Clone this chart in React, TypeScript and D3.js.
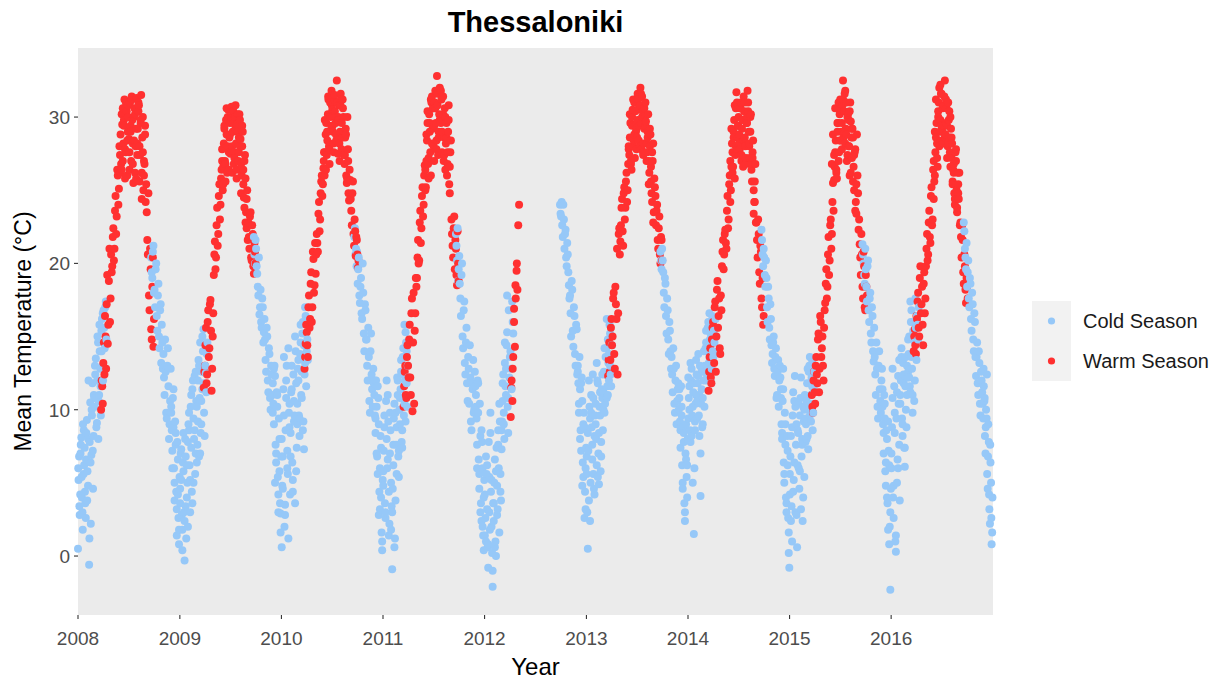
import React from 'react';
import * as d3 from 'd3';

// legend / colours
const seasons = ['Cold Season', 'Warm Season'];
const seasonColors = ['#96C8F8', '#FF3030'];

const yearTicks = [2008, 2009, 2010, 2011, 2012, 2013, 2014, 2015, 2016];
const tempTicks = [0, 10, 20, 30];

// mean daily temperature (°C), one reading every 4 days from the run start.
// "b" runs are the readings two days later, "c" runs fill winter and summer.
const cold2008 = [
  0.5, 6.8, 4.2, 8.1, 3.0, 5.6, 7.4, 2.6,
  9.3, 4.8, -0.6, 10.5, 6.9, 11.8, 8.2,
  10.2, 13.5, 9.1, 14.6, 11.0, 12.8, 15.4, 13.0,
  16.8, 14.2, 17.4,
];
const cold2008b = [
  5.2, 2.8, 7.6, 4.0, 9.0, 6.2, 3.6, 8.4,
  5.8, 12.0, 7.8, 2.2, 9.6, 4.6, 10.8,
  12.4, 8.8, 15.0, 10.6, 14.0, 9.6, 16.2, 12.0,
  15.6, 17.0, 14.8,
];
const cold2008c = [
  6.0, 3.4, 7.0, 5.4, 1.8, 8.6, 4.4, 6.6,
  3.8, 8.0, 1.2, 6.4, 10.0, 7.2, 11.0,
  13.0, 10.8, 12.0, 8.0, 15.8, 11.6, 14.0, 16.6,
];
const warm2008 = [
  10.0, 11.6,
  13.2, 12.4, 15.0, 17.2, 14.5, 18.8, 16.0, 20.6,
  19.8, 22.4, 21.0, 24.6, 23.2, 26.0, 25.1, 27.4,
  26.8, 29.5, 28.2, 31.2, 27.6, 30.4, 29.0,
  28.5, 31.0, 27.0, 29.8, 25.5, 30.6, 28.0, 31.3,
  29.2, 30.8, 27.4, 31.5, 28.6, 25.0, 26.8, 24.2,
  23.5, 20.6, 17.8, 21.0, 15.5, 18.4, 14.3,
];
const warm2008b = [
  12.0, 10.4,
  14.6, 16.4, 12.8, 19.2, 15.8, 21.0, 17.6, 19.4,
  21.8, 20.2, 23.6, 22.0, 26.4, 24.0, 28.0, 26.2,
  30.2, 27.0, 29.8, 25.8, 31.0, 28.4, 30.8,
  26.4, 29.4, 31.2, 28.2, 30.0, 26.2, 29.2, 27.4,
  30.4, 28.0, 29.6, 26.2, 30.0, 27.0, 29.4, 25.4,
  21.6, 24.8, 16.8, 19.6, 14.8, 20.4, 16.2,
];
const warm2008c = [
  28.8, 26.4, 30.6, 29.4, 27.8, 31.0, 26.0,
  30.0, 27.6, 29.0, 31.4, 26.8, 28.4, 30.2, 25.8,
  28.2, 31.0, 25.6, 29.8, 24.4, 27.6, 26.0, 28.8,
];
const cold0809 = [
  20.4, 19.0, 21.2,
  18.2, 19.6, 16.4, 17.8, 15.0, 16.8, 13.2, 14.6,
  13.8, 11.0, 12.6, 9.4, 14.2, 8.0, 10.6,
  9.8, 7.2, 11.4, 5.0, 8.4, 3.2, 6.6, 1.8,
  4.6, 7.3, 0.4, 5.8, -0.3, 3.4, 6.2, 2.0,
  8.6, 5.2, 11.0, 3.6, 9.4, 12.3, 7.0,
  10.2, 12.0, 6.8, 14.6, 9.0, 11.4, 15.5, 8.2,
  12.5, 13.8,
];
const cold0809b = [
  19.4, 20.8, 18.0,
  17.0, 20.0, 15.4, 18.6, 14.2, 17.2, 15.8, 12.8,
  12.2, 14.8, 9.8, 13.0, 11.6, 9.0, 12.8,
  8.6, 10.8, 6.0, 9.2, 4.4, 7.8, 2.6, 5.4,
  7.0, 2.8, 6.4, 3.0, 8.0, 1.2, 5.0, 9.0,
  6.2, 10.2, 4.4, 12.0, 8.0, 5.6, 10.6,
  7.6, 13.4, 10.8, 8.4, 12.6, 14.0, 9.8, 13.0,
  11.2, 14.6,
];
const cold0809c = [
  10.2, 6.0, 8.8, 3.8, 7.6, 1.4, 4.2, 0.8,
  3.6, 5.2, 1.8, 8.4, 2.4, 6.8, 4.0, 7.8,
  9.8, 3.0, 7.4, 11.4, 5.0, 8.6, 12.6,
  6.4, 9.2, 13.0, 7.0, 10.6, 15.0, 11.8,
];
const warm2009 = [
  11.5,
  13.0, 15.6, 12.4, 16.8, 14.2, 17.5, 11.3, 15.0,
  19.2, 21.5, 20.4, 23.8, 22.0, 25.4, 24.0, 26.4,
  25.0, 28.2, 27.0, 29.8, 26.2, 30.5, 28.6,
  27.5, 30.7, 29.0, 26.8, 30.0, 28.2, 29.5, 27.0,
  30.2, 28.5, 26.0, 29.0, 24.5, 27.4, 23.5, 25.0,
  22.8, 21.0, 23.5, 20.2, 22.0, 19.3, 20.8,
];
const warm2009b = [
  12.6,
  14.4, 11.8, 16.0, 13.6, 17.2, 15.4, 12.8, 16.6,
  20.6, 19.6, 22.6, 21.2, 24.6, 23.0, 25.8, 27.0,
  26.6, 29.2, 25.6, 28.8, 30.0, 27.6, 29.6,
  29.8, 28.0, 30.4, 27.6, 29.2, 26.4, 30.2, 28.6,
  28.0, 26.8, 29.4, 25.4, 27.0, 22.8, 24.4, 21.6,
  21.8, 23.2, 20.4, 22.6, 19.8, 21.4, 20.0,
];
const warm2009c = [
  27.8, 25.4, 29.4, 26.8, 30.6, 28.0, 26.4,
  28.8, 30.0, 26.2, 29.6, 27.2, 30.8, 25.8, 29.0,
  27.6, 29.8, 24.8, 28.0, 26.4, 23.8, 25.8, 22.4,
];
const cold0910 = [
  21.8, 20.0,
  21.0, 19.3, 17.8, 16.5, 18.2, 15.6, 17.0, 15.3,
  14.8, 12.6, 15.0, 11.2, 13.8, 10.0, 12.4,
  11.8, 9.0, 12.3, 6.4, 10.2, 4.2, 8.0, 2.9,
  0.6, 6.8, 9.6, 3.5, 12.0, 7.2, 1.2, 10.4,
  8.4, 13.0, 5.2, 10.6, 3.6, 11.8, 9.0,
  12.0, 8.2, 14.6, 10.8, 16.0, 7.3, 13.2, 11.6,
  14.8,
];
const cold0910b = [
  20.6, 21.6,
  19.8, 18.4, 20.4, 17.0, 16.0, 17.6, 14.6, 16.2,
  13.4, 15.6, 12.0, 14.2, 10.8, 13.0, 11.0,
  10.4, 13.0, 7.6, 11.2, 5.4, 9.4, 3.6, 6.8,
  4.8, 11.4, 2.0, 8.6, 13.0, 5.6, 9.8, 4.2,
  11.2, 6.4, 12.4, 9.6, 14.0, 7.4, 12.8,
  9.6, 13.8, 11.0, 15.2, 9.2, 12.4, 16.4, 14.0,
  13.4,
];
const cold0910c = [
  9.8, 12.8, 5.0, 7.0, 11.0, 3.0, 5.8, 1.6,
  8.0, 4.6, 13.6, 2.8, 10.8, 6.0, 14.2, 8.8,
  6.8, 11.4, 4.4, 9.2, 15.0, 5.8, 10.4,
  13.4, 9.4, 15.8, 12.6, 8.6, 14.4, 17.0,
];
const warm2010 = [
  12.8, 14.5,
  15.3, 13.6, 17.8, 16.2, 19.4, 17.0, 20.3, 18.5,
  19.3, 22.0, 20.8, 24.2, 23.0, 25.6, 24.6, 26.5,
  26.0, 28.8, 27.4, 30.2, 28.0, 31.0, 29.4,
  30.5, 28.2, 31.5, 29.6, 32.5, 27.5, 30.8, 29.0,
  31.2, 28.6, 30.0, 26.8, 29.2, 25.5, 27.8, 24.3,
  25.7, 23.6, 24.8, 22.0, 23.0, 20.5, 21.6,
  19.7,
];
const warm2010b = [
  13.6, 15.8,
  14.4, 17.0, 15.6, 18.6, 16.0, 20.8, 18.0, 21.4,
  20.6, 21.4, 23.4, 22.2, 24.8, 26.0, 25.4, 27.6,
  27.6, 29.6, 28.4, 31.2, 26.8, 30.0, 30.8,
  29.0, 31.2, 30.0, 28.4, 31.0, 29.8, 27.0, 31.6,
  29.6, 30.6, 27.4, 28.6, 26.0, 30.0, 24.8, 26.4,
  24.4, 22.6, 25.6, 21.2, 22.2, 21.8, 20.6,
  20.2,
];
const warm2010c = [
  27.0, 29.8, 26.4, 29.0, 31.4, 27.8, 30.2,
  31.8, 29.4, 27.6, 30.4, 28.8, 31.0, 30.0, 28.2,
  30.8, 27.8, 31.2, 29.0, 27.4, 28.8, 25.8, 27.0,
];
const cold1011 = [
  21.8, 20.6, 19.8,
  18.6, 20.4, 17.3, 19.0, 16.2, 18.0, 14.0, 16.8,
  14.8, 12.0, 13.6, 9.8, 15.2, 11.4, 12.8,
  11.0, 8.4, 10.2, 5.6, 9.0, 3.2, 7.4, 0.4,
  5.8, 9.6, 2.6, 8.0, 11.0, 4.4, 7.0, 1.8,
  -0.9, 6.2, 10.4, 3.8, 8.8, 11.0, 5.4,
  9.0, 12.6, 8.6, 14.2, 10.4, 15.3, 11.8, 13.0,
];
const cold1011b = [
  22.4, 21.0, 20.8,
  19.6, 17.8, 18.4, 16.6, 20.0, 15.2, 17.2, 14.8,
  13.0, 15.6, 10.6, 14.0, 12.4, 10.2, 11.8,
  9.6, 12.0, 6.8, 10.8, 4.4, 8.2, 1.6, 5.2,
  7.2, 3.6, 10.6, 6.0, 9.2, 2.2, 8.6, 3.4,
  4.6, 9.4, 1.2, 7.6, 12.2, 6.8, 10.0,
  11.4, 7.8, 13.6, 9.6, 12.0, 14.6, 10.2, 12.2,
];
const cold1011c = [
  12.0, 9.4, 7.0, 11.6, 2.8, 6.0, 4.0, 1.0,
  4.8, 8.8, 3.0, 12.0, 6.6, 1.4, 9.8, 5.0,
  3.0, 7.6, 0.6, 9.8, 5.6, 12.0, 7.2,
  10.8, 13.4, 7.4, 12.4, 15.8, 9.2, 14.0,
];
const warm2011 = [
  10.2, 12.6, 11.0, 13.6,
  13.0, 14.8, 12.2, 16.6, 9.9, 18.0, 15.4, 19.0,
  19.0, 21.6, 20.2, 23.6, 22.4, 25.2, 24.0, 26.7,
  25.2, 28.4, 26.8, 30.2, 27.6, 31.0, 29.2,
  28.0, 31.0, 29.6, 32.8, 27.4, 30.2, 28.8, 31.2,
  29.8, 27.0, 30.6, 28.2, 26.0, 29.0, 25.4, 27.6,
  23.0, 21.2, 22.4, 19.6, 21.0, 18.5, 20.0,
];
const warm2011b = [
  11.6, 13.0, 10.8, 14.4,
  12.2, 15.8, 11.0, 17.6, 14.6, 10.4, 16.6, 18.4,
  20.4, 20.0, 22.8, 21.4, 24.6, 23.2, 26.0, 25.0,
  27.0, 29.6, 25.8, 29.0, 31.2, 28.2, 30.6,
  29.4, 30.6, 27.8, 31.6, 28.6, 29.8, 31.8, 27.6,
  30.2, 28.6, 26.4, 29.6, 27.6, 30.8, 26.6, 28.4,
  22.0, 20.4, 23.2, 21.6, 19.2, 22.2, 18.8,
];
const warm2011c = [
  26.4, 28.8, 30.4, 27.2, 29.6, 26.0, 31.4,
  30.6, 27.0, 31.8, 28.4, 30.8, 29.0, 32.0, 29.6,
  29.0, 31.4, 27.4, 30.0, 28.6, 26.8, 29.8, 24.8,
];
const cold1112 = [
  22.0, 20.2, 18.8,
  20.5, 17.6, 19.2, 15.0, 16.8, 13.2, 14.6, 11.8,
  13.6, 10.4, 12.2, 8.6, 11.4, 9.8, 12.6,
  11.0, 7.6, 9.8, 4.6, 8.2, 2.4, 6.0, 0.4,
  4.2, 1.0, 6.2, -0.8, 3.0, 9.8, 5.2, -2.1,
  2.4, 6.6, 0.0, 4.8, 8.6, 1.6, 5.6,
  7.3, 10.6, 9.0, 13.2, 11.0, 15.3, 8.4, 12.2,
  14.0, 11.4, 16.0,
];
const cold1112b = [
  21.2, 22.4, 19.6,
  18.6, 16.4, 20.0, 14.2, 17.4, 12.4, 15.6, 10.6,
  12.8, 14.4, 9.2, 11.8, 13.4, 10.0, 11.6,
  9.4, 12.0, 6.6, 10.4, 3.6, 7.8, 1.4, 5.2,
  2.6, 5.6, 0.6, 7.8, 1.8, 4.4, 0.2, 3.6,
  5.0, 1.0, 7.4, 3.2, 6.0, 9.2, 3.8,
  9.2, 12.4, 8.0, 11.6, 14.4, 10.2, 16.8, 13.6,
  12.8, 17.4, 15.2,
];
const cold1112c = [
  10.2, 6.0, 11.8, 5.6, 3.0, 8.6, 2.0, 4.0,
  1.4, 6.8, 3.2, 0.8, 5.4, 8.4, 2.0, -1.0,
  3.6, 0.6, 5.8, 2.8, 7.6, 10.4, 4.4,
  8.6, 11.8, 9.8, 14.6, 12.8, 17.8, 10.8,
];
// short spring run, every 3 days
const warm2012 = [9.5, 12.0, 10.6, 13.6, 16.0, 14.3, 17.6, 19.5, 18.2, 22.6, 24.0];
const warm2012b = [11.5, 12.8, 16.9, 18.5, 20.0];
const cold1213 = [
  24.0,
  23.2, 22.6, 24.0, 21.0, 22.3, 19.8, 20.6, 18.5,
  17.8, 15.0, 18.2, 14.3, 16.4, 13.0, 15.5,
  12.6, 9.8, 11.4, 7.2, 10.6, 5.4, 8.8, 3.2,
  6.8, 0.5, 3.8, 9.4, 11.0, 7.6, 5.6, 8.2,
  10.4, 6.2, 11.8, 4.9, 9.6, 7.8, 10.8,
  11.2, 9.8, 13.6, 10.8, 14.8, 12.0, 13.0, 11.6,
];
const cold1213b = [
  23.4,
  24.2, 21.8, 23.0, 22.0, 20.4, 21.4, 19.4, 17.6,
  16.6, 18.8, 15.4, 17.0, 13.8, 15.8, 12.4,
  11.8, 13.6, 8.6, 12.2, 6.4, 9.8, 4.4, 7.4,
  3.0, 7.2, 10.2, 5.0, 8.8, 12.4, 4.6, 9.6,
  8.0, 12.0, 7.0, 10.2, 5.8, 11.4, 8.6,
  12.6, 10.4, 14.2, 11.6, 13.2, 15.8, 12.4, 14.4,
];
const cold1213c = [
  13.0, 10.4, 8.0, 11.8, 4.8, 9.0, 2.6, 6.0,
  5.6, 8.4, 12.0, 2.4, 9.8, 6.6, 10.8, 4.2,
  9.0, 13.2, 5.4, 8.4, 11.2, 6.8, 12.4,
  10.0, 14.2, 12.4, 16.2, 11.0, 13.8, 15.2,
];
const warm2013 = [
  12.3, 14.6, 13.4,
  16.2, 15.0, 18.0, 12.8, 17.2, 21.0, 16.6, 22.4,
  21.5, 23.8, 22.2, 24.8, 23.0, 25.6, 24.2, 26.8,
  27.4, 29.6, 26.4, 30.5, 28.4, 27.2, 29.0,
  28.6, 31.2, 29.4, 32.0, 27.8, 30.4, 28.2, 30.0,
  29.7, 27.6, 30.2, 26.2, 28.8, 24.8, 27.0, 23.5,
  25.2, 22.6, 24.0, 21.0, 23.2, 20.0, 21.6,
];
const warm2013b = [
  13.4, 12.6, 15.6,
  14.4, 17.6, 13.8, 18.4, 16.2, 12.4, 22.0, 20.6,
  22.6, 24.4, 21.2, 25.2, 23.8, 26.2, 25.0, 27.8,
  28.6, 26.8, 30.0, 28.0, 31.0, 29.4, 27.8,
  29.8, 30.6, 28.0, 31.6, 30.0, 27.4, 29.2, 31.0,
  28.2, 29.0, 27.0, 28.0, 25.6, 27.6, 22.8, 25.8,
  24.6, 23.6, 21.6, 22.4, 20.6, 21.8, 20.2,
];
const warm2013c = [
  28.0, 30.2, 27.0, 29.4, 31.2, 28.8, 30.4,
  29.2, 31.6, 28.4, 30.8, 29.6, 31.4, 27.6, 30.6,
  29.4, 27.0, 28.6, 25.4, 29.2, 26.6, 24.2, 28.2,
];
const cold1314 = [
  20.8, 19.6,
  20.2, 18.0, 19.0, 16.4, 17.6, 14.8, 16.0, 14.0,
  13.6, 11.2, 12.8, 9.8, 13.0, 10.6, 11.8,
  10.8, 7.4, 9.6, 5.0, 8.4, 2.4, 6.6, 4.0,
  9.4, 11.6, 7.8, 12.8, 10.2, 1.5, 8.6, 11.0,
  10.6, 12.3, 8.2, 4.1, 11.4, 9.0, 12.0,
  13.0, 14.6, 12.3, 16.0, 13.6, 15.2, 12.8, 14.0,
  15.4, 13.8,
];
const cold1314b = [
  20.2, 21.0,
  19.4, 17.0, 18.6, 15.2, 16.8, 13.8, 15.4, 12.8,
  12.4, 14.2, 10.4, 12.0, 9.0, 11.4, 10.0,
  9.2, 11.6, 6.2, 8.8, 3.6, 7.0, 5.4, 8.0,
  10.8, 8.6, 12.0, 9.6, 11.2, 6.0, 10.4, 12.4,
  11.8, 9.6, 13.0, 10.4, 8.8, 12.6, 10.2,
  14.2, 12.0, 15.6, 13.2, 14.8, 11.8, 16.4, 13.6,
  14.6, 16.2,
];
const cold1314c = [
  11.4, 8.6, 10.2, 4.6, 7.8, 3.0, 9.0, 6.2,
  12.2, 10.0, 13.2, 8.2, 5.0, 11.8, 9.2, 13.4,
  9.4, 13.8, 11.0, 7.0, 12.8, 10.8, 14.0,
  12.6, 15.4, 14.0, 13.0, 16.6, 12.0, 15.0,
];
const warm2014 = [
  11.3, 13.6, 12.2, 14.8,
  16.0, 13.2, 17.4, 15.0, 18.8, 16.4, 14.2, 17.8,
  19.8, 21.6, 20.6, 22.3, 21.0, 24.6, 23.0, 26.0,
  25.0, 28.2, 26.6, 29.8, 27.4, 31.7, 28.6,
  30.0, 27.8, 31.0, 29.2, 26.6, 30.4, 28.0, 29.6,
  31.8, 29.0, 27.2, 30.2, 25.6, 28.4, 24.2, 26.8,
  22.8, 20.4, 22.0, 18.6, 20.8, 17.0, 15.8,
];
const warm2014b = [
  12.6, 14.2, 11.8, 15.6,
  14.6, 17.0, 12.6, 18.2, 15.6, 17.6, 13.8, 16.8,
  20.8, 19.6, 22.0, 21.4, 23.6, 22.4, 25.4, 24.2,
  26.6, 27.6, 29.0, 25.8, 30.6, 27.8, 29.4,
  28.8, 30.6, 27.0, 29.8, 28.4, 31.0, 26.8, 30.0,
  30.4, 28.0, 29.0, 26.4, 27.6, 23.4, 25.6, 22.8,
  21.6, 23.0, 19.4, 21.2, 17.6, 19.0, 16.4,
];
const warm2014c = [
  27.0, 29.2, 26.2, 28.6, 30.8, 28.0, 31.0,
  29.4, 28.2, 30.6, 27.4, 29.8, 31.4, 28.6, 27.2,
  29.6, 31.0, 28.2, 30.0, 26.8, 27.2, 25.0, 24.2,
];
const cold1415 = [
  22.3, 20.6,
  21.0, 19.2, 20.2, 17.0, 18.4, 15.6, 17.2, 14.4,
  13.8, 15.0, 12.3, 14.2, 11.0, 13.4, 12.0,
  12.2, 9.0, 10.6, 6.4, 9.8, 4.0, 8.2, 2.6,
  -0.8, 6.8, 3.4, 9.6, 5.2, 12.3, 7.6, 0.6,
  8.4, 4.6, 10.8, 6.8, 2.4, 9.2, 11.0,
  9.0, 11.8, 7.3, 13.0, 10.4, 12.2, 8.6, 11.4,
];
const cold1415b = [
  21.6, 19.8,
  20.4, 18.4, 19.0, 16.0, 17.6, 14.8, 16.2, 13.2,
  14.6, 12.8, 13.6, 10.8, 12.6, 10.2, 13.0,
  10.8, 8.0, 11.4, 5.6, 9.0, 3.0, 7.2, 1.6,
  5.6, 2.4, 8.8, 4.4, 10.6, 3.0, 9.0, 6.2,
  6.0, 9.6, 3.2, 8.0, 10.2, 5.4, 7.8,
  10.6, 8.2, 12.6, 9.6, 11.0, 13.4, 9.8, 12.6,
];
const cold1415c = [
  11.4, 8.4, 12.8, 5.0, 7.6, 3.6, 6.2, 0.2,
  4.2, 8.2, 1.0, 11.2, 6.4, 10.2, 2.8, 8.6,
  10.4, 5.8, 12.2, 7.6, 4.0, 10.0, 9.4,
  8.0, 12.8, 10.0, 13.6, 9.2, 11.6, 12.8,
];
const warm2015 = [
  11.0, 9.8, 12.6, 10.4,
  13.6, 11.8, 15.2, 12.8, 16.0, 14.2, 13.0, 15.6,
  17.3, 19.6, 18.4, 21.8, 20.2, 23.0, 22.0, 25.5,
  25.7, 27.6, 26.2, 29.0, 27.0, 30.2, 28.4,
  29.6, 32.5, 30.4, 28.2, 31.0, 27.4, 29.8, 26.0,
  29.7, 27.2, 28.6, 25.0, 27.8, 23.4, 26.0, 22.3,
  21.3, 19.2, 20.6, 17.6, 19.8, 16.8, 18.4,
];
const warm2015b = [
  10.2, 12.0, 11.2, 13.0,
  12.4, 14.8, 11.2, 16.4, 13.6, 15.0, 12.0, 16.8,
  18.6, 17.6, 20.6, 19.2, 22.6, 21.0, 24.2, 23.6,
  26.6, 28.4, 25.8, 29.6, 27.6, 31.2, 29.0,
  30.8, 28.6, 31.6, 29.2, 27.0, 30.2, 28.0, 31.0,
  28.6, 29.2, 26.6, 27.6, 24.2, 28.8, 24.8, 23.0,
  20.4, 22.0, 18.4, 20.8, 17.0, 19.2, 17.8,
];
const warm2015c = [
  26.8, 28.8, 27.4, 30.6, 26.4, 29.6, 31.0,
  28.4, 30.6, 27.8, 31.2, 29.0, 31.8, 28.8, 30.0,
  28.0, 30.4, 26.2, 29.2, 25.6, 27.4, 23.6, 25.4,
];
const cold1516 = [
  21.3, 20.0, 18.6,
  19.6, 17.4, 20.2, 16.0, 18.0, 14.6, 16.4, 13.3,
  13.6, 11.0, 12.8, 9.4, 14.0, 10.6, 12.0,
  10.2, 7.0, 9.4, 4.8, 8.0, 1.8, 6.2, -2.3,
  6.0, 10.8, 2.6, 8.4, 0.3, 5.0, 12.3, 7.6,
  11.0, 13.6, 8.2, 12.4, 6.1, 10.0, 13.0,
  12.6, 15.0, 11.2, 16.8, 9.8, 14.0, 12.0, 15.6,
  16.4, 14.8,
];
const cold1516b = [
  20.6, 19.2, 21.0,
  18.4, 19.8, 16.8, 17.6, 15.2, 17.0, 14.0, 15.6,
  12.4, 14.6, 10.2, 13.0, 11.4, 9.8, 12.8,
  9.0, 11.0, 5.8, 8.6, 3.6, 7.2, 2.0, 4.6,
  8.8, 4.0, 11.6, 1.0, 9.4, 6.6, 10.4, 3.8,
  12.0, 9.4, 13.2, 7.4, 11.6, 8.8, 12.2,
  13.8, 11.6, 16.0, 12.8, 15.4, 10.6, 17.6, 13.4,
  15.8, 17.0,
];
const cold1516c = [
  11.4, 8.4, 10.4, 6.4, 4.0, 9.2, 0.8, 3.0,
  7.0, 12.8, 4.8, 9.8, 1.4, 11.2, 6.0, 13.4,
  10.4, 14.2, 9.0, 11.8, 7.4, 13.6, 11.0,
  14.8, 12.2, 17.4, 13.6, 11.0, 16.0, 14.6,
];
const warm2016 = [
  14.0, 15.5, 13.8,
  16.2, 18.0, 15.0, 19.8, 17.2, 15.8, 18.6, 16.6,
  19.8, 22.0, 20.6, 23.6, 21.4, 25.2, 23.0, 24.4,
  26.0, 28.6, 27.2, 30.4, 28.0, 32.2, 29.4,
  30.6, 28.2, 32.5, 29.6, 27.2, 31.0, 28.6, 30.0,
  27.2, 25.6, 26.8, 24.0, 27.0, 23.5, 25.4, 26.2,
  22.8, 20.4, 21.6, 18.6, 19.8, 17.3, 18.4,
];
const warm2016b = [
  15.0, 14.4, 16.4,
  17.4, 15.6, 19.0, 16.6, 18.4, 14.4, 19.4, 17.6,
  21.0, 20.2, 22.8, 21.8, 24.6, 22.6, 26.4, 25.6,
  27.6, 29.6, 26.6, 31.0, 29.0, 31.6, 28.4,
  29.4, 31.4, 28.8, 30.6, 28.0, 29.8, 27.6, 29.2,
  28.2, 26.4, 24.8, 27.6, 25.0, 26.2, 24.4, 22.6,
  21.8, 22.6, 19.4, 20.6, 18.2, 19.0, 17.6,
];
const warm2016c = [
  27.0, 29.0, 31.2, 28.2, 30.0, 32.0, 29.8,
  31.6, 29.0, 30.8, 28.6, 31.2, 29.4, 28.2, 30.4,
  26.6, 28.6, 25.4, 26.2, 24.4, 27.8, 23.8, 24.8,
];
const cold1617 = [
  22.8, 21.0, 19.6,
  18.4, 20.2, 17.0, 18.6, 15.4, 17.2, 14.0, 16.0,
  12.3, 14.6, 11.0, 13.2, 9.6, 12.0, 10.4,
  11.6, 8.2, 10.0, 5.6, 9.0, 3.2, 6.4, 0.8,
];
const cold1617b = [
  22.2, 20.4, 21.4,
  19.4, 17.6, 19.0, 16.2, 18.0, 14.8, 16.6, 13.6,
  13.6, 11.8, 14.0, 10.4, 12.6, 11.2, 9.4,
  10.6, 7.0, 9.4, 4.6, 7.8, 2.2, 5.0, 1.6,
];
const cold1617c = [12.8, 10.8, 8.8, 12.4, 6.8, 4.2, 7.6, 2.6, 4.0];

// [season index, first date, readings, days between readings]
const runs: [number, string, number[], number][] = [
  [0, '2008-01-01', cold2008, 4],
  [0, '2008-01-03', cold2008b, 4],
  [0, '2008-01-02', cold2008c, 4],
  [1, '2008-03-24', warm2008, 4],
  [1, '2008-03-26', warm2008b, 4],
  [1, '2008-06-02', warm2008c, 4],
  [0, '2008-09-20', cold0809, 4],
  [0, '2008-09-22', cold0809b, 4],
  [0, '2008-12-01', cold0809c, 4],
  [1, '2009-03-28', warm2009, 4],
  [1, '2009-03-30', warm2009b, 4],
  [1, '2009-06-02', warm2009c, 4],
  [0, '2009-09-24', cold0910, 4],
  [0, '2009-09-26', cold0910b, 4],
  [0, '2009-12-01', cold0910c, 4],
  [1, '2010-03-25', warm2010, 4],
  [1, '2010-03-27', warm2010b, 4],
  [1, '2010-06-02', warm2010c, 4],
  [0, '2010-09-20', cold1011, 4],
  [0, '2010-09-22', cold1011b, 4],
  [0, '2010-12-01', cold1011c, 4],
  [1, '2011-03-16', warm2011, 4],
  [1, '2011-03-18', warm2011b, 4],
  [1, '2011-06-02', warm2011c, 4],
  [0, '2011-09-20', cold1112, 4],
  [0, '2011-09-22', cold1112b, 4],
  [0, '2011-12-01', cold1112c, 4],
  [1, '2012-04-04', warm2012, 3],
  [1, '2012-04-06', warm2012b, 5],
  [0, '2012-09-28', cold1213, 4],
  [0, '2012-09-30', cold1213b, 4],
  [0, '2012-12-01', cold1213c, 4],
  [1, '2013-03-20', warm2013, 4],
  [1, '2013-03-22', warm2013b, 4],
  [1, '2013-06-02', warm2013c, 4],
  [0, '2013-09-24', cold1314, 4],
  [0, '2013-09-26', cold1314b, 4],
  [0, '2013-12-01', cold1314c, 4],
  [1, '2014-03-16', warm2014, 4],
  [1, '2014-03-18', warm2014b, 4],
  [1, '2014-06-02', warm2014c, 4],
  [0, '2014-09-22', cold1415, 4],
  [0, '2014-09-24', cold1415b, 4],
  [0, '2014-12-01', cold1415c, 4],
  [1, '2015-03-22', warm2015, 4],
  [1, '2015-03-24', warm2015b, 4],
  [1, '2015-06-02', warm2015c, 4],
  [0, '2015-09-20', cold1516, 4],
  [0, '2015-09-22', cold1516b, 4],
  [0, '2015-12-01', cold1516c, 4],
  [1, '2016-03-22', warm2016, 4],
  [1, '2016-03-24', warm2016b, 4],
  [1, '2016-06-02', warm2016c, 4],
  [0, '2016-09-18', cold1617, 4],
  [0, '2016-09-20', cold1617b, 4],
  [0, '2016-11-28', cold1617c, 4],
];

const W = 1227;
const H = 680;
const margin = { left: 78, right: 235, top: 48, bottom: 65 };
const font = '"Liberation Sans", Arial, sans-serif';

type Pt = { date: Date; temp: number; season: number };

const App = () => {
  const parse = d3.timeParse('%Y-%m-%d');
  const points: Pt[] = [];
  runs.forEach(([season, start, temps, step]) => {
    const d0 = parse(start) as Date;
    temps.forEach((t, i) => points.push({ date: d3.timeDay.offset(d0, i * step), temp: t, season }));
  });
  points.sort((a, b) => +a.date - +b.date);

  const px0 = margin.left;
  const px1 = W - margin.right + 1;
  const py0 = margin.top;
  const py1 = H - margin.bottom;
  const cx = (px0 + px1) / 2;

  const x = d3
    .scaleTime()
    .domain([new Date(2008, 0, 1), new Date(2017, 0, 1)])
    .range([px0, px1]);
  const y = d3.scaleLinear().domain([-4.03, 34.72]).range([py1, py0]);

  return (
    <svg width={W} height={H} style={{ position: 'absolute', left: 0, top: 0, background: '#fff' }}>
      <text x={cx} y={32} textAnchor="middle" fontFamily={font} fontWeight="bold" fontSize={29} fill="#000">
        Thessaloniki
      </text>
      <rect x={px0} y={py0} width={px1 - px0} height={py1 - py0} fill="#EBEBEB" />
      <g>
        {points.map((p, i) => (
          <circle key={i} cx={x(p.date)} cy={y(p.temp)} r={4} fill={seasonColors[p.season]} />
        ))}
      </g>
      {/* y axis */}
      {tempTicks.map((t) => (
        <g key={t}>
          <line x1={px0 - 4} x2={px0} y1={y(t)} y2={y(t)} stroke="#333" strokeWidth={1.1} />
          <text x={px0 - 8} y={y(t) + 7} textAnchor="end" fontFamily={font} fontSize={19} fill="#4D4D4D">
            {t}
          </text>
        </g>
      ))}
      {/* x axis */}
      {yearTicks.map((yr) => {
        const xx = x(new Date(yr, 0, 1));
        return (
          <g key={yr}>
            <line x1={xx} x2={xx} y1={py1} y2={py1 + 4} stroke="#333" strokeWidth={1.1} />
            <text x={xx} y={py1 + 30} textAnchor="middle" fontFamily={font} fontSize={19} fill="#4D4D4D">
              {yr}
            </text>
          </g>
        );
      })}
      <text x={cx} y={675} textAnchor="middle" fontFamily={font} fontSize={24} fill="#000">
        Year
      </text>
      <text
        transform={`translate(31,${(py0 + py1) / 2}) rotate(-90)`}
        textAnchor="middle"
        fontFamily={font}
        fontSize={23}
        fill="#000"
      >
        Mean Temperature (°C)
      </text>
      {/* legend */}
      {seasons.map((s, i) => {
        const ky = 301 + i * 40;
        return (
          <g key={s}>
            <rect x={1032} y={ky} width={39} height={40} fill="#F2F2F2" />
            <circle cx={1051.5} cy={ky + 20} r={3.6} fill={seasonColors[i]} />
            <text x={1083} y={ky + 27} fontFamily={font} fontSize={20} fill="#1A1A1A">
              {s}
            </text>
          </g>
        );
      })}
    </svg>
  );
};

export default App;
